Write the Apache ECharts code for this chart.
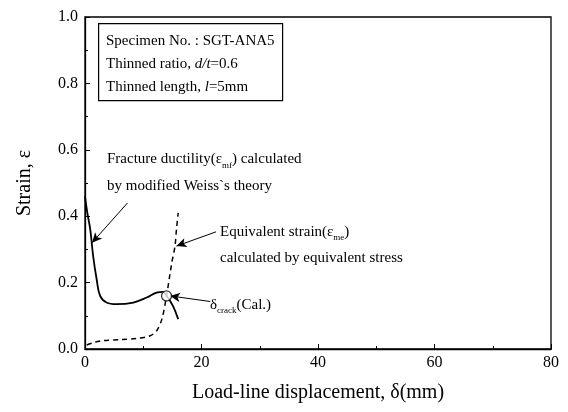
<!DOCTYPE html>
<html>
<head>
<meta charset="utf-8">
<script src="https://cdn.jsdelivr.net/npm/echarts@6/dist/echarts.min.js"></script>
<style>
  html, body { margin: 0; padding: 0; background: #fff; }
  #chart { width: 568px; height: 412px; }
</style>
</head>
<body>
<div id="chart"></div>
<script>
// fracture ductility (solid) and equivalent strain (dashed)
var ductilityX = [0, 0.4, 0.9, 1.4, 2.0, 2.6, 3.7, 5.4, 8.3, 10.6, 12.3, 13.4, 14.0, 14.6, 15.2, 16.0];
var ductilityY = [0.46, 0.41, 0.36, 0.28, 0.21, 0.16, 0.14, 0.135, 0.14, 0.155, 0.17, 0.172, 0.16, 0.145, 0.126, 0.09];
var strainX = [0.3, 1.6, 3.1, 6.0, 9.0, 11.2, 12.3, 13.2, 14.0, 14.9, 15.45, 15.7, 16.0];
var strainY = [0.012, 0.02, 0.025, 0.028, 0.032, 0.04, 0.055, 0.09, 0.16, 0.26, 0.31, 0.36, 0.41];
var crackPoint = [14.0, 0.16];
var xTicks = [0, 20, 40, 60, 80];
var yTicks = [0, 0.2, 0.4, 0.6, 0.8, 1.0];

var serif = '"Liberation Serif", "Times New Roman", serif';
var chart = echarts.init(document.getElementById('chart'));

function pairs(xs, ys) {
  return xs.map(function (x, i) { return [x, ys[i]]; });
}

var arrowStyle = { color: '#000', width: 1, type: 'solid' };
// subscript style for rich text
var sub = { fontFamily: serif, fontSize: 9, padding: [12, 0, 0, 0] };

chart.setOption({
  animation: false,
  backgroundColor: '#fff',
  grid: { left: 85, right: 17, top: 17, bottom: 63, show: true, borderColor: '#000', borderWidth: 1.3 },
  xAxis: {
    type: 'value', min: xTicks[0], max: xTicks[xTicks.length - 1], interval: 20,
    name: 'Load-line displacement, δ(mm)', nameLocation: 'middle', nameGap: 34,
    nameTextStyle: { fontFamily: serif, fontSize: 20, color: '#000' },
    axisLine: { lineStyle: { color: '#000', width: 1.3 } },
    axisTick: { inside: true, length: 5, lineStyle: { color: '#000' } },
    minorTick: { show: true, splitNumber: 2, length: 3, lineStyle: { color: '#000' } },
    splitLine: { show: false },
    axisLabel: { fontFamily: serif, fontSize: 16, color: '#000', margin: 6 }
  },
  yAxis: {
    type: 'value', min: yTicks[0], max: yTicks[yTicks.length - 1], interval: 0.2,
    name: 'Strain, ε', nameLocation: 'middle', nameGap: 50, nameRotate: 90,
    nameTextStyle: { fontFamily: serif, fontSize: 20, color: '#000' },
    axisLine: { lineStyle: { color: '#000', width: 1.3 } },
    axisTick: { inside: true, length: 5, lineStyle: { color: '#000' } },
    minorTick: { show: true, splitNumber: 2, length: 3, lineStyle: { color: '#000' } },
    splitLine: { show: false },
    axisLabel: { fontFamily: serif, fontSize: 16, color: '#000', margin: 7, formatter: function (v) { return v.toFixed(1); } }
  },
  series: [
    {
      type: 'line', data: pairs(ductilityX, ductilityY), smooth: 0.4, symbol: 'none',
      lineStyle: { color: '#000', width: 1.8 },
      markLine: {
        silent: true, symbol: ['none', 'arrow'], symbolSize: [7, 10], label: { show: false },
        lineStyle: arrowStyle,
        data: [
          [{ coord: [7.3, 0.44] }, { coord: [1.2, 0.32] }],
          [{ coord: [22.5, 0.353] }, { coord: [15.7, 0.31] }],
          [{ coord: [21.5, 0.143] }, { coord: [14.6, 0.16] }]
        ]
      }
    },
    {
      type: 'line', data: pairs(strainX, strainY), smooth: 0.3, symbol: 'none',
      lineStyle: { color: '#000', width: 1.5, type: [5, 4] }
    },
    {
      type: 'scatter', data: [crackPoint], symbol: 'circle', symbolSize: 10,
      itemStyle: { color: '#fff', borderColor: '#000', borderWidth: 1.3 }, z: 5
    }
  ],
  graphic: [
    { type: 'rect', left: 98, top: 23, shape: { width: 184, height: 77 }, style: { fill: '#fff', stroke: '#000', lineWidth: 1.2 } },
    {
      type: 'text', left: 106, top: 30,
      style: {
        text: 'Specimen No. : SGT-ANA5\n{n|Thinned ratio, }{i|d/t}{n|=0.6}\n{n|Thinned length, }{i|l}{n|=5mm}',
        font: '15px ' + serif, fill: '#000', lineHeight: 23,
        rich: { n: { fontFamily: serif, fontSize: 15, lineHeight: 23 }, i: { fontFamily: serif, fontSize: 15, fontStyle: 'italic', lineHeight: 23 } }
      }
    },
    {
      type: 'text', left: 107, top: 146,
      style: {
        text: 'Fracture ductility(ε{s|mf}) calculated\nby modified Weiss`s theory',
        font: '15px ' + serif, fill: '#000', lineHeight: 27,
        rich: { s: sub }
      }
    },
    {
      type: 'text', left: 220, top: 219,
      style: {
        text: 'Equivalent strain(ε{s|me})\ncalculated by equivalent stress',
        font: '15px ' + serif, fill: '#000', lineHeight: 26,
        rich: { s: sub }
      }
    },
    {
      type: 'text', left: 210, top: 293,
      style: {
        text: 'δ{s|crack}(Cal.)',
        font: '15px ' + serif, fill: '#000', lineHeight: 24,
        rich: { s: sub }
      }
    }
  ]
});
</script>
</body>
</html>
